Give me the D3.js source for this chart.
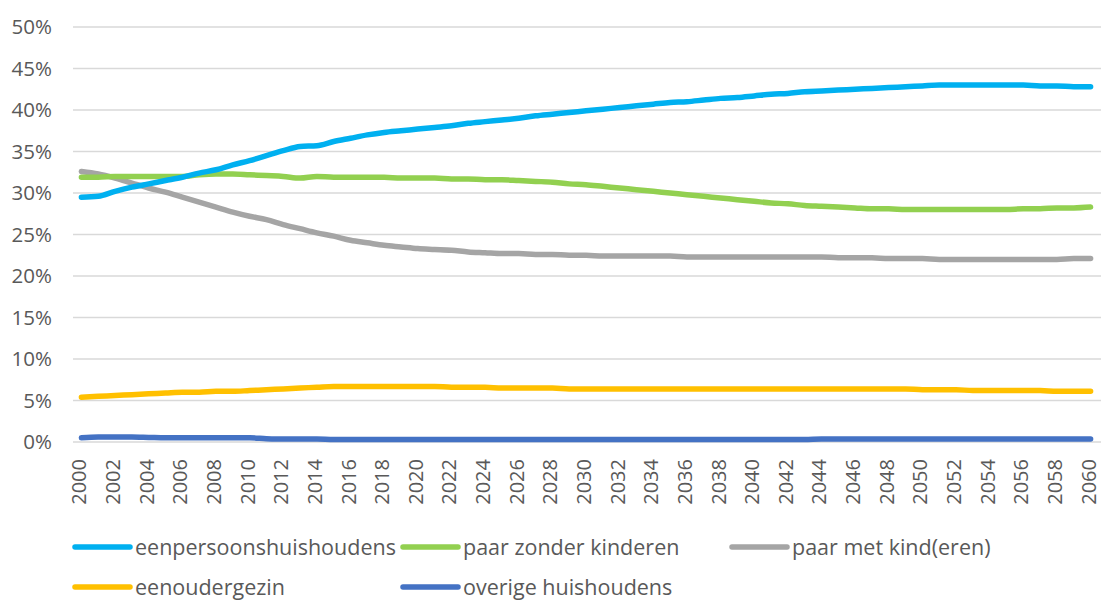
<!DOCTYPE html>
<html>
<head>
<meta charset="utf-8">
<script src="https://cdn.jsdelivr.net/npm/d3@7"></script>
<style>
  body { margin: 0; background: #fff; }
  svg text { font-family: "Open Sans", Lato, sans-serif; fill: #595959; }
</style>
</head>
<body>
<div id="chart"></div>
<script>
var years = d3.range(2000, 2061);
var yTicks = [0, 5, 10, 15, 20, 25, 30, 35, 40, 45, 50];

var eenpersoons = [29.5, 29.6, 30.2, 30.7, 31.1, 31.5, 31.9, 32.4, 32.8, 33.4,
    33.9, 34.5, 35.1, 35.6, 35.7, 36.2, 36.6, 37.0, 37.3, 37.5,
    37.7, 37.9, 38.1, 38.4, 38.6, 38.8, 39.0, 39.3, 39.5, 39.7,
    39.9, 40.1, 40.3, 40.5, 40.7, 40.9, 41.0, 41.2, 41.4, 41.5,
    41.7, 41.9, 42.0, 42.2, 42.3, 42.4, 42.5, 42.6, 42.7, 42.8,
    42.9, 43.0, 43.0, 43.0, 43.0, 43.0, 43.0, 42.9, 42.9, 42.8, 42.8];
var zonderKinderen = [31.9, 31.9, 32.0, 32.0, 32.0, 32.0, 32.0, 32.2, 32.3, 32.3,
    32.2, 32.1, 32.0, 31.8, 32.0, 31.9, 31.9, 31.9, 31.9, 31.8,
    31.8, 31.8, 31.7, 31.7, 31.6, 31.6, 31.5, 31.4, 31.3, 31.1,
    31.0, 30.8, 30.6, 30.4, 30.2, 30.0, 29.8, 29.6, 29.4, 29.2,
    29.0, 28.8, 28.7, 28.5, 28.4, 28.3, 28.2, 28.1, 28.1, 28.0,
    28.0, 28.0, 28.0, 28.0, 28.0, 28.0, 28.1, 28.1, 28.2, 28.2, 28.3];
var metKind = [32.6, 32.3, 31.8, 31.2, 30.6, 30.1, 29.5, 28.9, 28.3, 27.7,
    27.2, 26.8, 26.2, 25.7, 25.2, 24.8, 24.3, 24.0, 23.7, 23.5,
    23.3, 23.2, 23.1, 22.9, 22.8, 22.7, 22.7, 22.6, 22.6, 22.5,
    22.5, 22.4, 22.4, 22.4, 22.4, 22.4, 22.3, 22.3, 22.3, 22.3,
    22.3, 22.3, 22.3, 22.3, 22.3, 22.2, 22.2, 22.2, 22.1, 22.1,
    22.1, 22.0, 22.0, 22.0, 22.0, 22.0, 22.0, 22.0, 22.0, 22.1, 22.1];
var eenouder = [5.4, 5.5, 5.6, 5.7, 5.8, 5.9, 6.0, 6.0, 6.1, 6.1,
    6.2, 6.3, 6.4, 6.5, 6.6, 6.7, 6.7, 6.7, 6.7, 6.7,
    6.7, 6.7, 6.6, 6.6, 6.6, 6.5, 6.5, 6.5, 6.5, 6.4,
    6.4, 6.4, 6.4, 6.4, 6.4, 6.4, 6.4, 6.4, 6.4, 6.4,
    6.4, 6.4, 6.4, 6.4, 6.4, 6.4, 6.4, 6.4, 6.4, 6.4,
    6.3, 6.3, 6.3, 6.2, 6.2, 6.2, 6.2, 6.2, 6.1, 6.1, 6.1];
var overige = [0.5, 0.6, 0.6, 0.6, 0.55, 0.5, 0.5, 0.5, 0.5, 0.5,
    0.5, 0.4, 0.35, 0.35, 0.35, 0.3, 0.3, 0.3, 0.3, 0.3,
    0.3, 0.3, 0.3, 0.3, 0.3, 0.3, 0.3, 0.3, 0.3, 0.3,
    0.3, 0.3, 0.3, 0.3, 0.3, 0.3, 0.3, 0.3, 0.3, 0.3,
    0.3, 0.3, 0.3, 0.3, 0.35, 0.35, 0.35, 0.35, 0.35, 0.35,
    0.35, 0.35, 0.35, 0.35, 0.35, 0.35, 0.35, 0.35, 0.35, 0.35, 0.35];

var seriesNames = ["eenpersoonshuishoudens", "paar zonder kinderen", "paar met kind(eren)",
    "eenoudergezin", "overige huishoudens"];
var seriesValues = [eenpersoons, zonderKinderen, metKind, eenouder, overige];
var seriesColours = ["#00b0f0", "#92d050", "#a5a5a5", "#ffc000", "#4472c4"];

var width = 1102, height = 601;
var svg = d3.select("#chart").append("svg").attr("width", width).attr("height", height);

var x = d3.scalePoint().domain(years).range([73, 1099]).padding(0.5);
var y = d3.scaleLinear().domain([0, 50]).range([442, 27]);

// gridlines
svg.append("g").selectAll("line").data(yTicks).enter().append("line")
    .attr("x1", 73).attr("x2", 1101)
    .attr("y1", function (d) { return y(d); })
    .attr("y2", function (d) { return y(d); })
    .attr("stroke", "#d9d9d9").attr("stroke-width", 1.5);

// y labels
svg.append("g").selectAll("text").data(yTicks).enter().append("text")
    .attr("x", 52).attr("y", function (d) { return y(d); })
    .attr("dy", "0.36em").attr("text-anchor", "end")
    .style("font-size", "20.5px")
    .text(function (d) { return d + "%"; });

// x labels, every second year
svg.append("g").selectAll("text").data(years.filter(function (d) { return d % 2 === 0; }))
    .enter().append("text")
    .attr("transform", function (d) { return "translate(" + x(d) + ",459) rotate(-90)"; })
    .attr("dy", "0.25em").attr("text-anchor", "end")
    .style("font-size", "20px")
    .text(function (d) { return d; });

var line = d3.line()
    .x(function (d, i) { return x(years[i]); })
    .y(function (d) { return y(d); })
    .curve(d3.curveMonotoneX);

// draw in reverse so the first series sits on top
for (var s = seriesValues.length - 1; s >= 0; s--) {
    svg.append("path").datum(seriesValues[s])
        .attr("d", line)
        .attr("fill", "none")
        .attr("stroke", seriesColours[s])
        .attr("stroke-width", 5.5)
        .attr("stroke-linecap", "round")
        .attr("stroke-linejoin", "round");
}

// legend
var legendPos = [[75, 547], [403, 547], [732, 547], [75, 587], [403, 587]];
var lg = svg.append("g").selectAll("g").data(seriesNames).enter().append("g")
    .attr("transform", function (d, i) { return "translate(" + legendPos[i][0] + "," + legendPos[i][1] + ")"; });
lg.append("line").attr("x1", 0).attr("x2", 55)
    .attr("stroke", function (d, i) { return seriesColours[i]; })
    .attr("stroke-width", 5.5).attr("stroke-linecap", "round");
lg.append("text").attr("x", 60).attr("dy", "0.36em")
    .style("font-size", "21.5px")
    .text(function (d) { return d; });
</script>
</body>
</html>
